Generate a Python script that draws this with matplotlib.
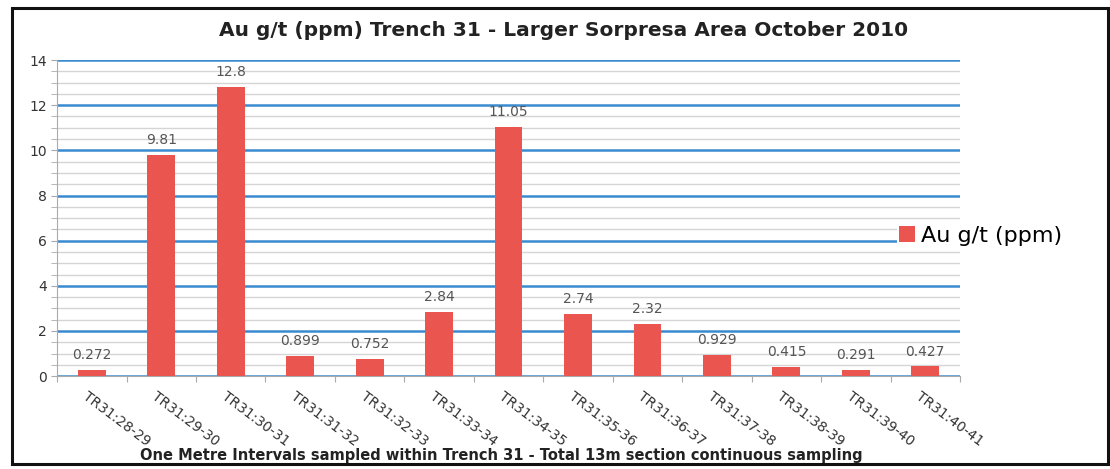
import numpy as np
import matplotlib.pyplot as plt
from matplotlib.patches import Rectangle
from matplotlib.ticker import MultipleLocator

# sample intervals and gold values
categories = ['TR31:28-29', 'TR31:29-30', 'TR31:30-31', 'TR31:31-32', 'TR31:32-33',
              'TR31:33-34', 'TR31:34-35', 'TR31:35-36', 'TR31:36-37', 'TR31:37-38',
              'TR31:38-39', 'TR31:39-40', 'TR31:40-41']
au_values = [0.272, 9.81, 12.8, 0.899, 0.752, 2.84, 11.05, 2.74, 2.32, 0.929,
             0.415, 0.291, 0.427]
value_labels = ['0.272', '9.81', '12.8', '0.899', '0.752', '2.84', '11.05', '2.74',
                '2.32', '0.929', '0.415', '0.291', '0.427']

fig = plt.figure(figsize=(11.1, 4.69), dpi=100)
ax = fig.add_axes([0.0514, 0.198, 0.8135, 0.674])

x = np.arange(len(categories))
bars = ax.bar(x, au_values, width=0.4, color='#EA5550', label='Au g/t (ppm)', zorder=3)

for xi, v, lab in zip(x, au_values, value_labels):
    ax.text(xi, v + 0.35, lab, ha='center', va='bottom', fontsize=10, color='#555555')

ax.set_xlim(-0.5, len(categories) - 0.5)
ax.set_ylim(0, 14)
ax.yaxis.set_major_locator(MultipleLocator(2))
ax.yaxis.set_minor_locator(MultipleLocator(0.5))
ax.grid(which='major', axis='y', color='#3A8AD0', linewidth=1.8, zorder=1)
ax.grid(which='minor', axis='y', color='#D5D5D5', linewidth=1.0, zorder=0)

# x ticks between categories
ax.set_xticks(np.arange(-0.5, len(categories), 1), minor=False)
ax.set_xticklabels([])
ax.tick_params(axis='x', length=4, color='#AAAAAA')
ax.tick_params(axis='y', which='both', length=4, color='#AAAAAA', labelsize=10,
               labelcolor='#333333')
for xi, lab in zip(x, categories):
    ax.text(xi - 0.05, -0.6, lab, rotation=-37, rotation_mode='anchor',
            ha='left', va='top', fontsize=10, color='#333333')

for s in ['top', 'right']:
    ax.spines[s].set_visible(False)
ax.spines['left'].set_color('#AAAAAA')
ax.spines['bottom'].set_color('#AAAAAA')

fig.text(0.508, 0.935, 'Au g/t (ppm) Trench 31 - Larger Sorpresa Area October 2010',
         ha='center', va='center', fontsize=14.5, fontweight='bold', color='#222222')
fig.text(0.452, 0.028, 'One Metre Intervals sampled within Trench 31 - Total 13m section continuous sampling',
         ha='center', va='center', fontsize=10.5, fontweight='bold', color='#222222')

fig.legend(loc='center left', bbox_to_anchor=(0.798, 0.497), frameon=True,
           facecolor='white', edgecolor='none', framealpha=1.0, borderpad=0.1,
           fontsize=16, handlelength=0.7, handleheight=0.7, handletextpad=0.3)

fig.patches.append(Rectangle((0.011, 0.01), 0.987, 0.973, transform=fig.transFigure,
                             fill=False, edgecolor='#111111', linewidth=2.2))

fig.savefig('out.png', dpi=100)
